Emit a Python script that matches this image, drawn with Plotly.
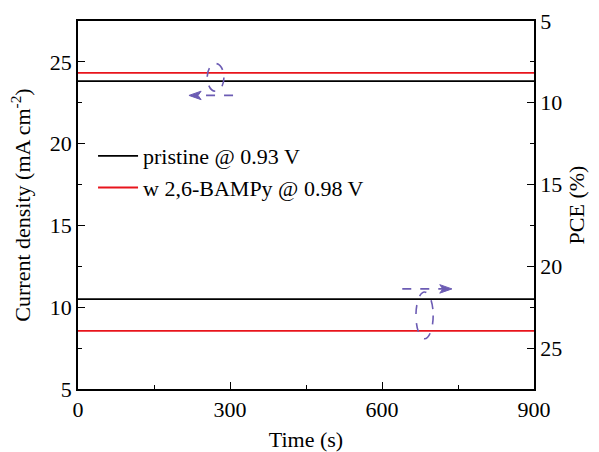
import plotly.graph_objects as go

# Data
time_s = [0, 150, 300, 450, 600, 750, 900]
jsc_pristine = [23.82, 23.82, 23.82, 23.82, 23.82, 23.82, 23.82]
jsc_bampy = [24.33, 24.33, 24.33, 24.33, 24.33, 24.33, 24.33]
pce_pristine = [22.0, 22.0, 22.0, 22.0, 22.0, 22.0, 22.0]
pce_bampy = [23.95, 23.95, 23.95, 23.95, 23.95, 23.95, 23.95]
names = ["pristine @ 0.93 V", "w 2,6-BAMPy @ 0.98 V"]
x_ticks = [0, 300, 600, 900]
y_ticks = [5, 10, 15, 20, 25]

FONT = "Liberation Serif"
FS = 22
PURPLE = "#6c5cb4"

fig = go.Figure()
fig.add_trace(go.Scatter(x=time_s, y=jsc_pristine, mode="lines", name=names[0],
                         line=dict(color="black", width=1.8)))
fig.add_trace(go.Scatter(x=time_s, y=jsc_bampy, mode="lines", name=names[1],
                         line=dict(color="#e8141c", width=1.8)))
fig.add_trace(go.Scatter(x=time_s, y=pce_pristine, mode="lines", showlegend=False,
                         line=dict(color="black", width=1.8), yaxis="y2"))
fig.add_trace(go.Scatter(x=time_s, y=pce_bampy, mode="lines", showlegend=False,
                         line=dict(color="#e8141c", width=1.8), yaxis="y2"))

axis_common = dict(showgrid=False, zeroline=False, showline=True, linecolor="black",
                   linewidth=1.6, ticks="inside", ticklen=7, tickwidth=1.4,
                   tickcolor="black", automargin=False,
                   tickfont=dict(family=FONT, size=FS, color="black"))

def minor(vals):
    return dict(ticks="inside", ticklen=4, tickwidth=1.2, tickcolor="black", tickvals=vals)

fig.update_layout(
    width=599, height=452,
    margin=dict(l=78, r=65, t=21, b=63),
    paper_bgcolor="white", plot_bgcolor="white",
    font=dict(family=FONT, size=FS, color="black"),
    xaxis=dict(range=[0, 900], tickvals=x_ticks, mirror=True,
               title=dict(text="Time (s)", font=dict(family=FONT, size=FS), standoff=10),
               minor=minor([150, 450, 750]), **axis_common),
    yaxis=dict(range=[5, 27.5], tickvals=y_ticks,
               title=dict(text="Current density (mA cm<sup>-2</sup>)",
                          font=dict(family=FONT, size=FS), standoff=13),
               minor=minor([7.5, 12.5, 17.5, 22.5]), **axis_common),
    yaxis2=dict(range=[27.5, 5], tickvals=y_ticks, overlaying="y", side="right",
                title=dict(text="PCE (%)", font=dict(family=FONT, size=FS), standoff=7),
                minor=minor([7.5, 12.5, 17.5, 22.5]), **axis_common),
    legend=dict(x=0.033, y=0.69, xanchor="left", yanchor="top",
                bgcolor="rgba(0,0,0,0)", font=dict(family=FONT, size=FS),
                tracegroupgap=0, itemwidth=40),
    showlegend=True,
)

# Dashed ellipses and arrows (in data coordinates of the left axis)
def arrow_head(tip_x, y, direction):
    back = tip_x - direction * 24
    notch = tip_x - direction * 18
    dy = 0.26
    return f"M {tip_x},{y} L {back},{y + dy} L {notch},{y} L {back},{y - dy} Z"

fig.add_shape(type="circle", xref="x", yref="y", x0=255, x1=288, y0=23.2, y1=24.9,
              line=dict(color=PURPLE, width=1.6, dash="dash"))
fig.add_shape(type="line", xref="x", yref="y", x0=306, x1=237, y0=22.95, y1=22.95,
              line=dict(color=PURPLE, width=1.6, dash="dash"))
fig.add_shape(type="path", xref="x", yref="y", path=arrow_head(219, 22.95, -1),
              fillcolor=PURPLE, line=dict(color=PURPLE, width=1))
fig.add_shape(type="circle", xref="x", yref="y", x0=667, x1=701, y0=8.07, y1=10.93,
              line=dict(color=PURPLE, width=1.6, dash="dash"))
fig.add_shape(type="line", xref="x", yref="y", x0=640, x1=720, y0=11.12, y1=11.12,
              line=dict(color=PURPLE, width=1.6, dash="dash"))
fig.add_shape(type="path", xref="x", yref="y", path=arrow_head(738, 11.12, 1),
              fillcolor=PURPLE, line=dict(color=PURPLE, width=1))

fig.write_html("out.html")
